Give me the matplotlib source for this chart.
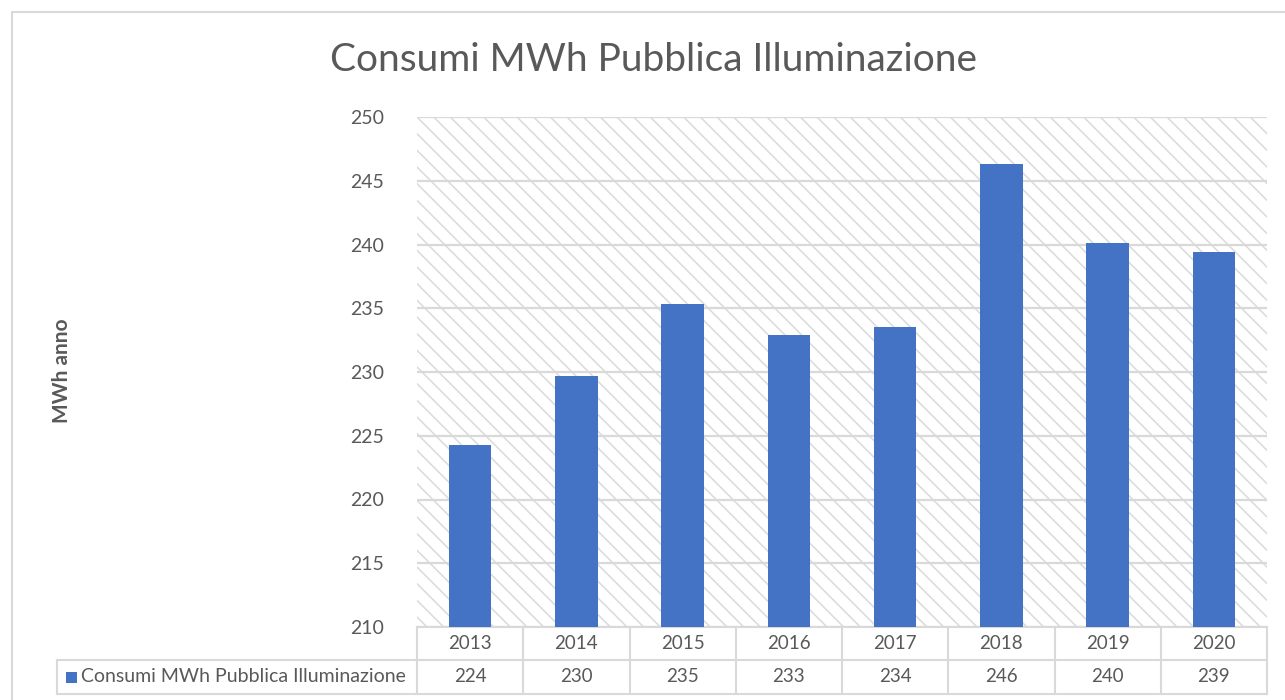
import matplotlib.pyplot as plt
from matplotlib.patches import Rectangle
from matplotlib.transforms import blended_transform_factory

plt.rcParams['font.family'] = ['Lato', 'DejaVu Sans']
plt.rcParams['hatch.color'] = '#dadada'
plt.rcParams['hatch.linewidth'] = 1.1

# dati
anni = ['2013', '2014', '2015', '2016', '2017', '2018', '2019', '2020']
consumi = [224.3, 229.7, 235.3, 232.9, 233.5, 246.3, 240.1, 239.4]
serie = 'Consumi MWh Pubblica Illuminazione'

testo = '#595959'
bordo = '#d9d9d9'
blu = '#4472C4'

fig = plt.figure(figsize=(12.85, 7.0), dpi=100, facecolor='white')

# cornice del grafico
fig.patches.append(Rectangle((12 / 1285, -0.1), 1.1, 1 - 12 / 700 + 0.1,
                             transform=fig.transFigure, fill=False,
                             edgecolor='#d9d9d9', linewidth=1.5))

ax = fig.add_axes([417 / 1285, 1 - 627 / 700, 850 / 1285, 510 / 700])
ax.set_xlim(-0.5, len(anni) - 0.5)
ax.set_ylim(210, 250)

# sfondo tratteggiato
ax.add_patch(Rectangle((0, 0), 1, 1, transform=ax.transAxes, facecolor='white',
                       hatch='\\\\', edgecolor='#dadada', linewidth=0, zorder=0))

ax.set_yticks(range(210, 251, 5))
ax.yaxis.grid(True, color='#d9d9d9', linewidth=1.6, zorder=1)
ax.set_axisbelow(True)

x = list(range(len(anni)))
ax.bar(x, consumi, width=0.4, color=blu, zorder=3)

ax.set_xticks([])
for s in ax.spines.values():
    s.set_visible(False)
ax.tick_params(axis='y', length=0, pad=24, labelsize=14, labelcolor=testo)

ax.set_ylabel('MWh anno', fontsize=15, fontweight='bold', color=testo)
ax.yaxis.set_label_coords(72 / 1285, 1 - 371 / 700, transform=fig.transFigure)

fig.text(653 / 1285, 1 - 60 / 700, serie, ha='center', va='center',
         fontsize=28, color=testo)

# tabella dati
tr = blended_transform_factory(ax.transData, ax.transAxes)
px = 1 / 510  # un pixel in unità di asse verticale
r1, r2, r3 = 0, -33 * px, -67 * px
kw = dict(transform=tr, color=bordo, linewidth=1.5, clip_on=False)
for i in range(len(anni) + 1):
    ax.plot([i - 0.5, i - 0.5], [r1, r3], **kw)
ax.plot([-0.5, len(anni) - 0.5], [r1, r1], **kw)
ax.plot([-0.5, len(anni) - 0.5], [r2, r2], **kw)
ax.plot([-0.5, len(anni) - 0.5], [r3, r3], **kw)
for i, (a, v) in enumerate(zip(anni, consumi)):
    ax.text(i, (r1 + r2) / 2, a, transform=tr, ha='center', va='center',
            fontsize=13.5, color=testo, clip_on=False)
    ax.text(i, (r2 + r3) / 2, f'{v:.0f}', transform=tr, ha='center', va='center',
            fontsize=13.5, color=testo, clip_on=False)

# cella legenda
fl, fr = 57 / 1285, 417 / 1285
ft, fb = 1 - 660 / 700, 1 - 694 / 700
for xs, ys in [([fl, fr], [ft, ft]), ([fl, fr], [fb, fb]), ([fl, fl], [ft, fb])]:
    fig.add_artist(plt.Line2D(xs, ys, transform=fig.transFigure,
                              color=bordo, linewidth=1.5))
fig.patches.append(Rectangle((66 / 1285, 1 - 683 / 700), 11 / 1285, 11 / 700,
                             transform=fig.transFigure, facecolor=blu, edgecolor='none'))
fig.text(81 / 1285, (ft + fb) / 2, serie, ha='left', va='center',
         fontsize=14, color=testo)

plt.savefig('out.png', dpi=100, facecolor='white')
